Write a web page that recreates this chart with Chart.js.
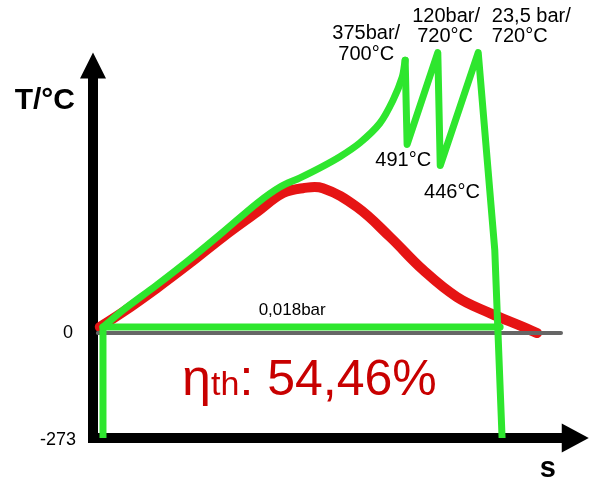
<!DOCTYPE html>
<html>
<head>
<meta charset="utf-8">
<script src="https://cdn.jsdelivr.net/npm/chart.js@4.4.1/dist/chart.umd.min.js"></script>
<style>
html,body{margin:0;padding:0;background:#fff;}
#wrap{width:589px;height:481px;position:relative;}
</style>
</head>
<body>
<div id="wrap"><canvas id="c"></canvas></div>
<script>
// ---- data (s in arbitrary units, T in °C) ----
const sDome = [1.4, 6.2, 13.1, 19.9, 26.7, 33.7, 39.0, 43.1, 47.2, 54.2, 61.0, 67.8, 74.7, 81.5, 88.3, 91.2];
const tDome = [16, 55, 117, 182, 250, 315, 364, 377, 377, 328, 250, 164, 94, 52, 16, 0];

const sRise = [2.05, 6.2, 13.1, 19.9, 26.7, 33.7, 38.4, 42.5, 46.6, 50.7, 54.8, 58.9, 61.6, 63.5, 64.1];
const tRise = [16, 60, 125, 192, 263, 338, 380, 404, 430, 459, 495, 546, 606, 666, 710];

const sZig = [64.1, 64.5, 70.8, 71.3, 79.1, 82.5, 84.0];
const tZig = [710, 491, 730, 436, 730, 216, -273];

const sBase = [2.05, 2.05, 83.6];
const tBase = [-273, 16, 16];

const sZero = [1, 96.1];
const tZero = [0, 0];

const yTickLabels = ["0", "-273"];
const yTickValues = [0, -273];
const stateLabels = ["375bar/", "700°C", "120bar/", "720°C", "23,5 bar/", "720°C", "491°C", "446°C", "0,018bar"];
const axisTitleY = "T/°C";
const axisTitleX = "s";
const effLabel = ["η", "th", ": 54,46%"];

const pts = (xs, ys) => xs.map((x, i) => ({x: x, y: ys[i]}));

const GREEN = '#2ee62e';
const RED = '#e61414';
const FONT = '"Liberation Sans", Arial, sans-serif';

const decor = {
  id: 'decor',
  beforeDatasetsDraw(chart) {
    const ctx = chart.ctx, xs = chart.scales.x, ys = chart.scales.y;
    const x0 = xs.getPixelForValue(0), y0 = ys.getPixelForValue(-273);
    const yTip = ys.getPixelForValue(730), xTip = xs.getPixelForValue(101.8);
    ctx.save();
    ctx.strokeStyle = '#000'; ctx.fillStyle = '#000';
    ctx.lineWidth = 10; ctx.lineJoin = 'miter'; ctx.lineCap = 'butt';
    ctx.beginPath();
    ctx.moveTo(x0, yTip + 24);
    ctx.lineTo(x0, y0);
    ctx.lineTo(xTip - 25, y0);
    ctx.stroke();
    ctx.beginPath();
    ctx.moveTo(x0, yTip); ctx.lineTo(x0 - 13, yTip + 26); ctx.lineTo(x0 + 13, yTip + 26); ctx.closePath(); ctx.fill();
    ctx.beginPath();
    ctx.moveTo(xTip, y0); ctx.lineTo(xTip - 27, y0 - 14.5); ctx.lineTo(xTip - 27, y0 + 14.5); ctx.closePath(); ctx.fill();
    ctx.restore();
  },
  afterDraw(chart) {
    const ctx = chart.ctx, xs = chart.scales.x, ys = chart.scales.y;
    const X = v => xs.getPixelForValue(v), Y = v => ys.getPixelForValue(v);
    ctx.save();
    ctx.fillStyle = '#000';
    ctx.textBaseline = 'middle';
    // axis titles
    ctx.font = 'bold 30px ' + FONT; ctx.textAlign = 'center';
    ctx.fillText(axisTitleY, X(-9.9), Y(604));
    ctx.font = 'bold 29px ' + FONT;
    ctx.fillText(axisTitleX, X(93.4), Y(-354));
    // y tick labels
    ctx.font = '18px ' + FONT; ctx.textAlign = 'right';
    ctx.fillText(yTickLabels[0], X(-4.1), Y(yTickValues[0]));
    ctx.fillText(yTickLabels[1], X(-3.5), Y(yTickValues[1]) + 2);
    // state labels
    ctx.font = '20px ' + FONT; ctx.textAlign = 'center';
    ctx.fillText(stateLabels[0], X(56.1), Y(780));
    ctx.fillText(stateLabels[1], X(56.1), Y(726));
    ctx.fillText(stateLabels[2], X(72.5), Y(825));
    ctx.fillText(stateLabels[3], X(72.3), Y(773));
    ctx.textAlign = 'left';
    ctx.fillText(stateLabels[4], X(81.9), Y(825));
    ctx.fillText(stateLabels[5], X(81.9), Y(773));
    ctx.textAlign = 'center';
    ctx.fillText(stateLabels[6], X(63.7), Y(448));
    ctx.fillText(stateLabels[7], X(73.7), Y(367));
    ctx.font = '17px ' + FONT;
    ctx.fillText(stateLabels[8], X(40.9), Y(60));
    // efficiency
    ctx.fillStyle = '#c80000'; ctx.textAlign = 'left'; ctx.textBaseline = 'alphabetic';
    let x = X(18.3); const yb = Y(-161);
    ctx.font = '52px ' + FONT; ctx.fillText(effLabel[0], x, yb); x += ctx.measureText(effLabel[0]).width;
    ctx.font = '34px ' + FONT; ctx.fillText(effLabel[1], x, yb); x += ctx.measureText(effLabel[1]).width;
    ctx.font = '50px ' + FONT; ctx.fillText(effLabel[2], x, yb);
    ctx.restore();
  }
};

const lineDs = (data, color, width, tension, order) => ({
  data: data, borderColor: color, borderWidth: width, tension: tension,
  pointRadius: 0, pointHoverRadius: 0, fill: false, showLine: true,
  borderCapStyle: 'round', borderJoinStyle: 'round', order: order
});

new Chart(document.getElementById('c'), {
  type: 'scatter',
  data: {
    datasets: [
      lineDs(pts(sZig, tZig), GREEN, 7, 0, 0),
      lineDs(pts(sRise, tRise), GREEN, 7, 0.3, 1),
      lineDs(pts(sBase, tBase), GREEN, 7, 0, 2),
      lineDs(pts(sZero, tZero), '#666666', 4, 0, 3),
      lineDs(pts(sDome, tDome), RED, 10, 0.4, 4)
    ]
  },
  options: {
    responsive: true, maintainAspectRatio: false, animation: false,
    layout: {padding: {left: 93, right: 9, top: 41, bottom: 43}},
    plugins: {legend: {display: false}, tooltip: {enabled: false}},
    events: [],
    scales: {
      x: {type: 'linear', min: 0, max: 100, display: false},
      y: {type: 'linear', min: -273, max: 760, display: false}
    }
  },
  plugins: [decor]
});
</script>
</body>
</html>
